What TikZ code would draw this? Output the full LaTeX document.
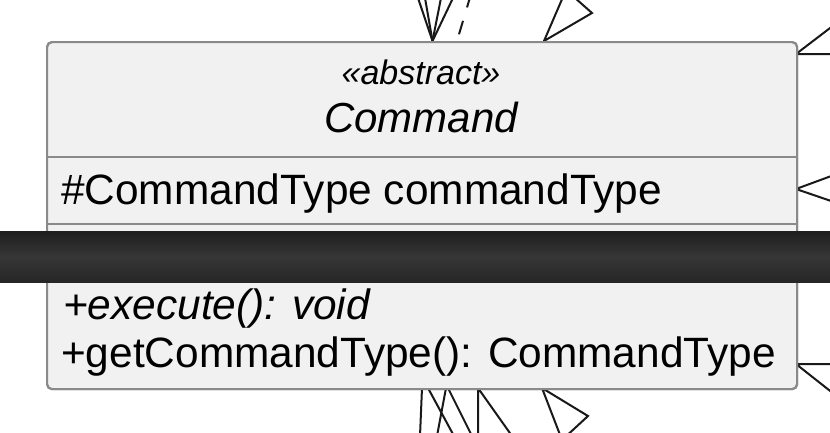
\documentclass[tikz,border=0pt]{standalone}
\usepackage{fontspec}
\setmainfont{Liberation Sans}
\definecolor{boxfill}{HTML}{F1F1F1}
\definecolor{boxline}{HTML}{8A8A8A}
\definecolor{bartop}{HTML}{1E1E1E}
\definecolor{barmid}{HTML}{363636}
\definecolor{barbot}{HTML}{262626}
\begin{document}
\begin{tikzpicture}[x=1pt,y=-1pt,
  conn/.style={draw=black!90, line width=2pt, line join=miter},
  dconn/.style={conn, dash pattern=on 14pt off 14pt},
  classbox/.style={draw=boxline, fill=boxfill, line width=2.2pt, rounded corners=5pt,
    minimum width=750pt, minimum height=347pt, inner sep=0pt, anchor=north west},
  sep/.style={draw=boxline, line width=2.2pt},
  big/.style={inner sep=0pt, font=\fontsize{42.4}{48}\selectfont},
  small/.style={inner sep=0pt, font=\fontsize{34}{40}\selectfont\itshape}]
\useasboundingbox (0,0) rectangle (830,432);
\fill[white] (0,0) rectangle (830,432);

% free ends of the connectors
\coordinate (ta) at (418,-2);
\coordinate (tb) at (425,-2);
\coordinate (tc) at (441,-2);
\coordinate (td) at (453,-2);
\coordinate (te) at (471,-6);
\coordinate (tri1b) at (592,13);
\coordinate (tri1c) at (566,-10);
\coordinate (ra1) at (834,25);
\coordinate (ra2) at (834,54);
\coordinate (rb1) at (834,175);
\coordinate (rb2) at (834,202);
\coordinate (rc1) at (834,364);
\coordinate (rc2) at (834,394);
\coordinate (ba) at (420,436);
\coordinate (bb) at (454,436);
\coordinate (bc) at (437,436);
\coordinate (bd) at (472,436);
\coordinate (tri2b) at (512,436);
\coordinate (tri2c) at (478,436);
\coordinate (tri3b) at (588,416);
\coordinate (tri3c) at (562,440);

\node[classbox] (cmd) at (46,41) {};

% attachment points on the class box
\coordinate (pt1) at (432.5,41);
\coordinate (pt2) at (457,41);
\coordinate (pt3) at (544,41);
\coordinate (pr1) at (796,54);
\coordinate (pr2) at (796,189);
\coordinate (pr3) at (796,364);
\coordinate (pb1) at (422,388);
\coordinate (pb2) at (428,388);
\coordinate (pb3) at (446,388);
\coordinate (pb4) at (448,388);
\coordinate (pb5) at (478,388);
\coordinate (pb6) at (542,388);

% connectors (top)
\draw[conn] (ta) -- (pt1);
\draw[conn] (tb) -- (pt1);
\draw[conn] (tc) -- (pt1);
\draw[conn] (td) -- (pt1);
\draw[dconn] (te) -- (pt2);
\draw[conn] (tri1c) -- (pt3) -- (tri1b) -- cycle;
% connectors (right)
\draw[conn] (ra1) -- (pr1) -- (ra2);
\draw[conn] (rb1) -- (pr2) -- (rb2);
\draw[conn] (rc2) -- (pr3) -- (rc1);
% connectors (bottom)
\draw[conn] (pb1) -- (ba);
\draw[conn] (pb2) -- (bb);
\draw[conn] (pb3) -- (bc);
\draw[conn] (pb4) -- (bd);
\draw[conn] (tri2c) -- (pb5) -- (tri2b);
\draw[conn] (tri3c) -- (pb6) -- (tri3b) -- cycle;

% redraw box on top of connector ends
\node[classbox] (cmdtop) at (46,41) {};
\coordinate (sl1) at (46,157);
\coordinate (sr1) at (796,157);
\coordinate (sl2) at (46,224);
\coordinate (sr2) at (796,224);
\draw[sep] (sl1) -- (sr1);
\draw[sep] (sl2) -- (sr2);

% texts
\node[small, anchor=base] (stereo) at (421,84) {«abstract»};
\node[big, anchor=base, font=\fontsize{42}{48}\selectfont\itshape] (name) at (421,132) {Command};
\node[big, anchor=base west] (attr) at (61,204) {\#CommandType commandType};
\node[big, anchor=base west, font=\fontsize{42.4}{48}\selectfont\itshape] (m1) at (63,319) {+execute(): void};
\node[big, anchor=base west] (m2) at (61,367) {+getCommandType(): CommandType};

% dark bar
\coordinate (bar1) at (0,231);
\coordinate (bar2) at (830,282);
\shade[top color=bartop, bottom color=barbot, middle color=barmid] (bar1) rectangle (bar2);
\end{tikzpicture}
\end{document}
